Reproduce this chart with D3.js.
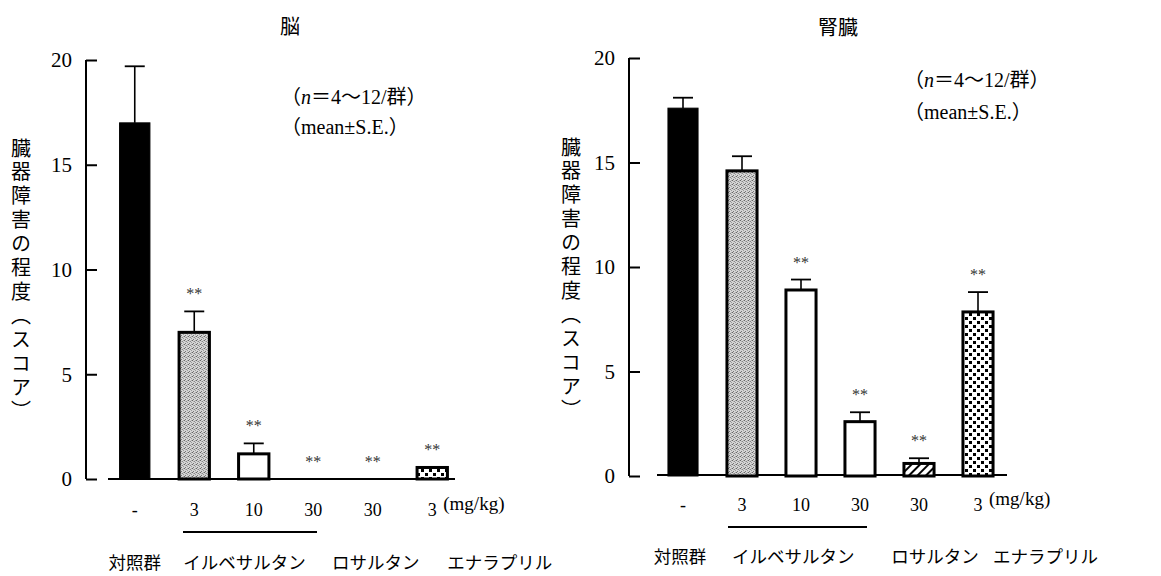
<!DOCTYPE html>
<html><head><meta charset="utf-8">
<script src="https://cdn.jsdelivr.net/npm/d3@7"></script>
<style>body{margin:0;background:#fff}</style>
</head><body><svg id="c" width="1161" height="576"></svg>
<script>
// ---- data ----
const barKeys = ["ctrl","irb3","irb10","irb30","los30","ena3"];
const doseLabels = ["-","3","10","30","30","3"];
const groupLabels = ["対照群","イルベサルタン","ロサルタン","エナラプリル"];
const brainMeans = [17.0, 7.0, 1.2, 0, 0, 0.55];
const brainSE    = [2.7, 1.0, 0.5, 0, 0, 0];
const brainSig   = [false, true, true, true, true, true];
const kidneyMeans = [17.6, 14.6, 8.9, 2.6, 0.6, 7.85];
const kidneySE    = [0.5, 0.7, 0.5, 0.45, 0.25, 0.95];
const kidneySig   = [false, false, true, true, true, true];
const yTicks = [0, 5, 10, 15, 20];
const panelTitles = ["脳", "腎臓"];
const yTitle = "臓器障害の程度（スコア）";
const unitLabel = "(mg/kg)";

// ---- styles ----
const fills = ["#000", "url(#gray)", "#fff", "#fff", "url(#hatch)", "url(#dots)"];
const serif = "'Liberation Serif','DejaVu Serif',serif";
const cjk = "'Noto Sans CJK JP','Noto Sans CJK SC',sans-serif";
const mixed = "'Liberation Serif','Noto Sans CJK JP',serif";

const svg = d3.select("#c");
const defs = svg.append("defs");
// gray stipple
const pg = defs.append("pattern").attr("id","gray").attr("patternUnits","userSpaceOnUse").attr("width",4).attr("height",4);
pg.append("rect").attr("width",4).attr("height",4).attr("fill","#d4d4d4");
[[0,0,"#666"],[2,1,"#888"],[1,3,"#777"],[3,2,"#999"],[3,0,"#aaa"],[1,1,"#b0b0b0"]].forEach(d =>
  pg.append("rect").attr("x",d[0]).attr("y",d[1]).attr("width",1).attr("height",1).attr("fill",d[2]));
// hatch
const ph = defs.append("pattern").attr("id","hatch").attr("patternUnits","userSpaceOnUse").attr("width",6).attr("height",6)
  .attr("patternTransform","rotate(45)");
ph.append("rect").attr("width",6).attr("height",6).attr("fill","#fff");
ph.append("rect").attr("x",0).attr("y",0).attr("width",2).attr("height",6).attr("fill","#000");
// dots
const pd = defs.append("pattern").attr("id","dots").attr("patternUnits","userSpaceOnUse").attr("width",8).attr("height",8);
pd.append("rect").attr("width",8).attr("height",8).attr("fill","#fff");
pd.append("rect").attr("x",1).attr("y",1).attr("width",3).attr("height",3).attr("fill","#000");
pd.append("rect").attr("x",5).attr("y",5).attr("width",3).attr("height",3).attr("fill","#000");

const panels = [
  {title: panelTitles[0], means: brainMeans, se: brainSE, sig: brainSig,
   range: [105, 462], y0: 479, y20: 60, axisX: 86, base: [108, 455, 479],
   titlePos: [290, 27], yTitleX: 21, yTitleY: 138,
   noteX: 281, noteY: [97, 127], tickY: 510, unitY: 503,
   underline: [183, 317, 532], groupY: 569,
   groupPos: [[0, "middle", 0], [1, "start", -11], [4, "middle", 3], [5, "start", 15]]},
  {title: panelTitles[1], means: kidneyMeans, se: kidneySE, sig: kidneySig,
   range: [653.5, 1007.5], y0: 476, y20: 58, axisX: 629, base: [657, 1007, 475],
   titlePos: [838, 28], yTitleX: 571, yTitleY: 137,
   noteX: 904, noteY: [80, 112], tickY: 505, unitY: 498,
   underline: [728, 867, 527], groupY: 563,
   groupPos: [[0, "middle", -3], [1, "start", -10], [4, "middle", 16], [5, "start", 15]]}
];

panels.forEach(p => {
  const g = svg.append("g");
  const x = d3.scaleBand().domain(barKeys).range(p.range).paddingInner(0.49).paddingOuter(0.245);
  const y = d3.scaleLinear().domain([0, 20]).range([p.y0, p.y20]);
  const cx = k => x(k) + x.bandwidth() / 2;

  // y axis
  const ax = g.append("g").attr("transform", `translate(${p.axisX},0)`)
    .call(d3.axisRight(y).tickValues(yTicks).tickSize(11).tickFormat(""));
  ax.select(".domain").attr("d", `M0,${y(20)}V${y(0)}`).attr("stroke","#000").attr("stroke-width",2);
  ax.selectAll(".tick line").attr("stroke","#000").attr("stroke-width",2);
  g.selectAll(".ytl").data(yTicks).join("text")
    .attr("x", p.axisX - 14).attr("y", d => y(d)).attr("dy","0.35em")
    .attr("text-anchor","end").attr("font-family", serif).attr("font-size", 21)
    .text(d => d);

  // baseline
  g.append("line").attr("x1", p.base[0]).attr("x2", p.base[1]).attr("y1", p.base[2]).attr("y2", p.base[2])
    .attr("stroke","#000").attr("stroke-width",2);

  // bars
  barKeys.forEach((k, i) => {
    const v = p.means[i];
    if (v > 0) {
      g.append("rect").attr("x", x(k)).attr("width", x.bandwidth())
        .attr("y", y(v)).attr("height", y(0) - y(v))
        .attr("fill", fills[i]).attr("stroke","#000").attr("stroke-width", i === 0 ? 1 : 3);
    }
    const top = v + p.se[i];
    if (p.se[i] > 0) {
      g.append("line").attr("x1", cx(k)).attr("x2", cx(k)).attr("y1", y(v)).attr("y2", y(top))
        .attr("stroke","#000").attr("stroke-width",1.6);
      g.append("line").attr("x1", cx(k) - 10).attr("x2", cx(k) + 10).attr("y1", y(top)).attr("y2", y(top))
        .attr("stroke","#000").attr("stroke-width",1.8);
    }
    if (p.sig[i]) {
      g.append("text").attr("x", cx(k)).attr("y", y(top) - 12).attr("text-anchor","middle")
        .attr("font-family", serif).attr("font-size", 16).attr("fill","#333").text("**");
    }
    // dose tick label
    g.append("text").attr("x", cx(k)).attr("y", p.tickY).attr("dy","0.35em").attr("text-anchor","middle")
      .attr("font-family", serif).attr("font-size", 18).text(doseLabels[i]);
  });

  // unit
  g.append("text").attr("x", cx(barKeys[5]) + 11).attr("y", p.unitY).attr("dy","0.35em")
    .attr("font-family", serif).attr("font-size", 19).text(unitLabel);

  // underline for irbesartan doses
  g.append("line").attr("x1", p.underline[0]).attr("x2", p.underline[1])
    .attr("y1", p.underline[2]).attr("y2", p.underline[2]).attr("stroke","#000").attr("stroke-width",2);

  // group labels
  p.groupPos.forEach((gp, j) => {
    g.append("text").attr("x", cx(barKeys[gp[0]]) + gp[2]).attr("y", p.groupY)
      .attr("text-anchor", gp[1]).attr("font-family", cjk).attr("font-size", 17.5).text(groupLabels[j]);
  });

  // title
  g.append("text").attr("x", p.titlePos[0]).attr("y", p.titlePos[1]).attr("dy","0.35em")
    .attr("text-anchor","middle").attr("font-family", cjk).attr("font-size", 20).text(p.title);

  // vertical y title
  g.append("text").attr("x", p.yTitleX).attr("y", p.yTitleY)
    .style("writing-mode","vertical-rl").style("letter-spacing","3.9px")
    .attr("font-family", cjk).attr("font-size", 20).text(yTitle);

  // notes
  const n1 = g.append("text").attr("x", p.noteX).attr("y", p.noteY[0]).attr("dy","0.35em")
    .attr("font-family", mixed).attr("font-size", 20);
  n1.append("tspan").text("（");
  n1.append("tspan").attr("font-style","italic").text("n");
  n1.append("tspan").text("＝4〜12/群）");
  g.append("text").attr("x", p.noteX).attr("y", p.noteY[1]).attr("dy","0.35em")
    .attr("font-family", mixed).attr("font-size", 20).text("（mean±S.E.）");
});
</script>
</body></html>
